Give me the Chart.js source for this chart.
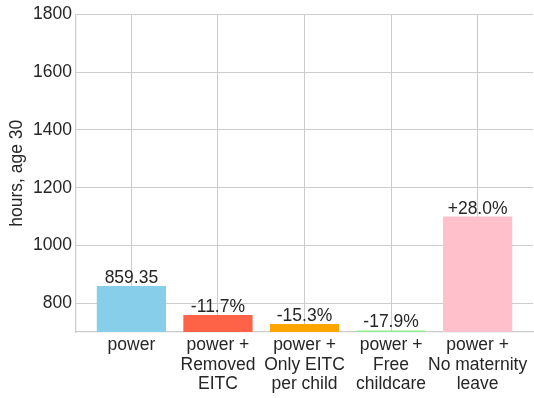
<!DOCTYPE html>
<html>
<head>
<meta charset="utf-8">
<script src="https://cdn.jsdelivr.net/npm/chart.js@4/dist/chart.umd.min.js"></script>
<style>
  html, body { margin: 0; padding: 0; background: #fff; }
  #wrap { width: 534px; height: 398px; }
</style>
</head>
<body>
<div id="wrap"><canvas id="hoursChart"></canvas></div>
<script>
// scenarios compared against the baseline "power" model
const scenarios = [
  ['power'],
  ['power +', 'Removed', 'EITC'],
  ['power +', 'Only EITC', 'per child'],
  ['power +', 'Free', 'childcare'],
  ['power +', 'No maternity', 'leave']
];
const hours = [859.35, 758.81, 727.89, 705.53, 1099.97];
const barLabels = ['859.35', '-11.7%', '-15.3%', '-17.9%', '+28.0%'];
const barColors = ['#87CEEB', '#FF6347', '#FFA500', '#90EE90', '#FFC0CB'];
const yTicks = [800, 1000, 1200, 1400, 1600, 1800];

const FONT = 'Liberation Sans, Arial, sans-serif';
const TEXT = '#262626';
const GRID = '#cccccc';

// text over each bar
const barText = {
  id: 'barText',
  afterDatasetsDraw(chart) {
    const ctx = chart.ctx;
    const meta = chart.getDatasetMeta(0);
    ctx.save();
    ctx.font = '17.5px ' + FONT;
    ctx.fillStyle = TEXT;
    ctx.textAlign = 'center';
    ctx.textBaseline = 'alphabetic';
    meta.data.forEach((bar, i) => {
      ctx.fillText(barLabels[i], bar.x, bar.y - 3);
    });
    ctx.restore();
  }
};

new Chart(document.getElementById('hoursChart'), {
  type: 'bar',
  data: {
    datasets: [{
      data: hours.map((h, i) => ({ x: i, y: h })),
      backgroundColor: barColors,
      borderWidth: 0,
      categoryPercentage: 0.8,
      barPercentage: 1.0
    }]
  },
  options: {
    responsive: true,
    maintainAspectRatio: false,
    animation: false,
    layout: { padding: { left: 0, right: 1, top: 13, bottom: 0 } },
    plugins: { legend: { display: false }, tooltip: { enabled: false } },
    scales: {
      x: {
        type: 'linear',
        offset: false,
        min: -0.64,
        max: 4.64,
        afterBuildTicks: s => { s.ticks = scenarios.map((_, i) => ({ value: i })); },
        afterFit: s => { s.height = 66; },
        grid: { color: GRID, drawTicks: false, offset: false },
        border: { color: GRID, width: 1.2 },
        ticks: {
          padding: 4,
          autoSkip: false,
          maxRotation: 0,
          color: TEXT,
          font: { family: FONT, size: 17.5, lineHeight: 1.1 },
          callback: v => scenarios[v]
        }
      },
      y: {
        min: 700,
        max: 1800,
        afterBuildTicks: s => { s.ticks = yTicks.map(v => ({ value: v })); },
        afterFit: s => { s.width = 76; },
        grid: { color: GRID, drawTicks: false },
        border: { color: GRID, width: 1.2 },
        title: {
          display: true,
          text: 'hours, age 30',
          color: TEXT,
          padding: { top: 7, bottom: 0 },
          font: { family: FONT, size: 17.5 }
        },
        ticks: {
          padding: 4,
          color: TEXT,
          font: { family: FONT, size: 17.5 },
          callback: v => String(v)
        }
      }
    }
  },
  plugins: [barText]
});
</script>
</body>
</html>
